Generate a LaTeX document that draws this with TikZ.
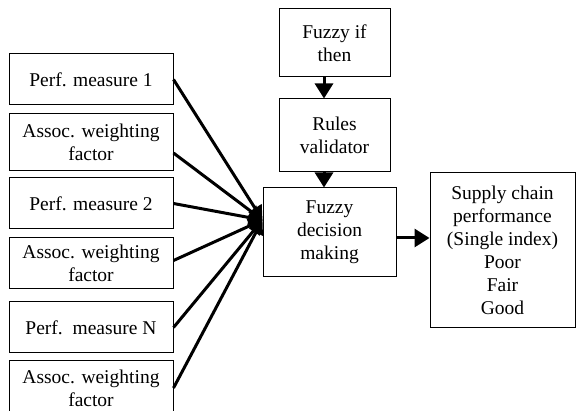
\documentclass[tikz,border=0pt]{standalone}
\usepackage{fontspec}
\setmainfont{Liberation Serif}
\usetikzlibrary{arrows.meta}
\begin{document}
\begin{tikzpicture}[x=1pt,y=-1pt,
  box/.style={draw, line width=1pt, align=center, inner sep=0pt, font=\fontsize{19.5}{23}\selectfont},
  lbox/.style={box, minimum width=164pt},
  arr/.style={line width=3pt, -{Triangle[length=15pt,width=18pt]}},
  inarr/.style={line width=3pt, -{Triangle[length=14pt,width=15pt]}}
]
\clip (0,0) rectangle (576,411);
\fill[white] (0,0) rectangle (576,411);
\node[lbox, minimum height=51pt] (p1) at (91,79.5) {Perf. measure 1};
\node[lbox, minimum height=57pt] (w1) at (91,142.5) {Assoc. weighting\\factor};
\node[lbox, minimum height=51pt] (p2) at (91,203.5) {Perf. measure 2};
\node[lbox, minimum height=51pt] (w2) at (91,263.5) {Assoc. weighting\\factor};
\node[lbox, minimum height=51pt] (pN) at (91,327.5) {Perf.\ \ measure N};
\node[lbox, minimum height=54pt] (wN) at (91,388) {Assoc. weighting\\factor};
\node[box, minimum width=111pt, minimum height=68pt] (ifthen) at (334.5,43) {Fuzzy if\\then};
\node[box, minimum width=111pt, minimum height=73pt] (rules) at (334.5,135.5) {Rules\\validator};
\node[box, minimum width=133pt, minimum height=89pt] (dec) at (329.5,232.5) {Fuzzy\\decision\\making};
\node[box, minimum width=145pt, minimum height=155pt] (sup) at (502.5,250.5) {Supply chain\\performance\\(Single index)\\Poor\\Fair\\Good};
\coordinate (conv) at ([yshift=12.5pt]dec.west);
\draw[inarr] (p1.east) -- (conv);
\draw[inarr] ([yshift=-10.5pt]w1.east) -- (conv);
\draw[inarr] (p2.east) -- (conv);
\draw[inarr] ([yshift=3pt]w2.east) -- (conv);
\draw[inarr] (pN.east) -- (conv);
\draw[inarr] (wN.east) -- (conv);
\draw[arr] ([xshift=-10.5pt]ifthen.south) -- ([xshift=-10.5pt]rules.north);
\draw[arr] ([xshift=-10.5pt]rules.south) -- ([xshift=-5.5pt]dec.north);
\draw[arr] ([yshift=-5.5pt]dec.east) -- ([yshift=12.5pt]sup.west);
\end{tikzpicture}
\end{document}
